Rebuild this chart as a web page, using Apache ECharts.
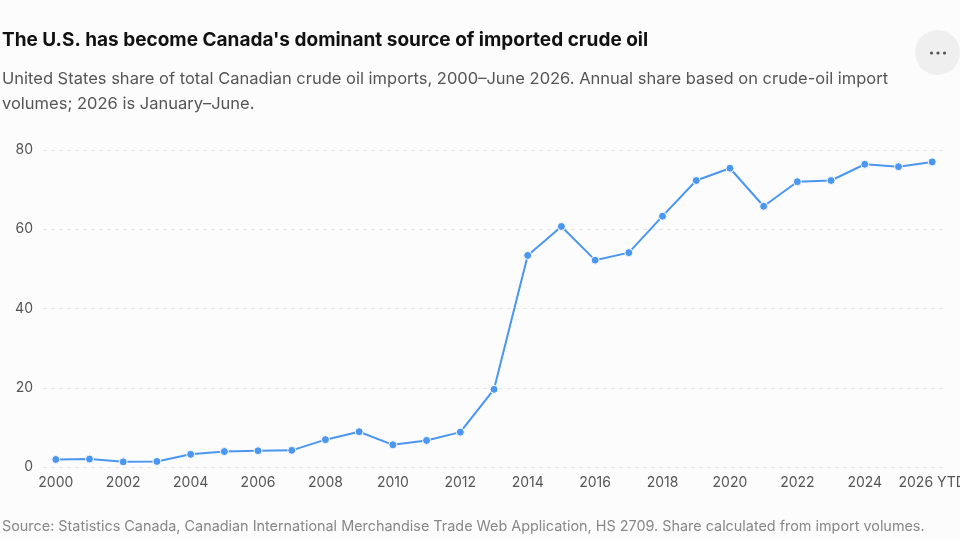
<!DOCTYPE html>
<html>
<head>
<meta charset="utf-8">
<script src="https://cdn.jsdelivr.net/npm/echarts@6/dist/echarts.min.js"></script>
<style>
  html, body { margin: 0; padding: 0; background: #fcfcfc; }
  #chart { width: 960px; height: 540px; }
</style>
</head>
<body>
<div id="chart"></div>
<script>
// annual US share of Canadian crude imports (%), 2026 = Jan-Jun
const years = [2000, 2001, 2002, 2003, 2004, 2005, 2006, 2007, 2008, 2009,
  2010, 2011, 2012, 2013, 2014, 2015, 2016, 2017, 2018, 2019,
  2020, 2021, 2022, 2023, 2024, 2025, 2026];
const usShare = [1.9, 2.0, 1.3, 1.4, 3.2, 3.9, 4.1, 4.2, 6.9, 8.9,
  5.6, 6.7, 8.8, 19.6, 53.4, 60.7, 52.2, 54.1, 63.3, 72.3,
  75.4, 65.8, 72.0, 72.3, 76.4, 75.8, 77.0];
const xTicks = [2000, 2002, 2004, 2006, 2008, 2010, 2012, 2014, 2016, 2018,
  2020, 2022, 2024, 2026];
const yTicks = [0, 20, 40, 60, 80];

const font = 'Inter, "Noto Sans", sans-serif';
const chart = echarts.init(document.getElementById('chart'));

const option = {
  backgroundColor: '#fcfcfc',
  animation: false,
  textStyle: { fontFamily: font },
  title: [
    {
      text: "The U.S. has become Canada's dominant source of imported crude oil",
      left: 2,
      top: 31,
      padding: 0,
      textStyle: { fontSize: 19, fontWeight: 'bold', color: '#111', fontFamily: font }
    },
    {
      text: 'United States share of total Canadian crude oil imports, 2000–June 2026. Annual share based on crude-oil import\nvolumes; 2026 is January–June.',
      left: 2,
      top: 67,
      padding: 0,
      textStyle: { fontSize: 16.5, fontWeight: 'normal', color: '#555', lineHeight: 25, fontFamily: font }
    },
    {
      text: 'Source: Statistics Canada, Canadian International Merchandise Trade Web Application, HS 2709. Share calculated from import volumes.',
      left: 2,
      top: 520,
      padding: 0,
      textStyle: { fontSize: 14.4, fontWeight: 'normal', color: '#888', fontFamily: font }
    }
  ],
  graphic: [
    { type: 'circle', shape: { cx: 937.5, cy: 52.5, r: 22.5 }, style: { fill: '#efefef' } },
    { type: 'circle', shape: { cx: 931.5, cy: 53, r: 1.6 }, style: { fill: '#555' } },
    { type: 'circle', shape: { cx: 938, cy: 53, r: 1.6 }, style: { fill: '#555' } },
    { type: 'circle', shape: { cx: 944.5, cy: 53, r: 1.6 }, style: { fill: '#555' } }
  ],
  grid: { left: 43, right: 15, top: 150, bottom: 73, containLabel: false, outerBoundsMode: 'none' },
  xAxis: {
    type: 'value',
    min: 1999.62,
    max: 2026.38,
    axisLine: { show: false },
    axisTick: { show: false },
    splitLine: { show: false },
    axisLabel: {
      customValues: xTicks,
      color: '#555',
      fontSize: 14,
      margin: 9,
      formatter: v => (v === 2026 ? '2026 YTD' : String(v))
    }
  },
  yAxis: {
    type: 'value',
    min: 0,
    max: 80,
    interval: 20,
    axisLine: { show: false },
    axisTick: { show: false },
    axisLabel: { color: '#555', fontSize: 14, margin: 10, customValues: yTicks },
    splitLine: { lineStyle: { color: '#e6e6e6', type: [4, 4], width: 1 } }
  },
  series: [
    {
      type: 'line',
      data: years.map((y, i) => [y, usShare[i]]),
      symbol: 'circle',
      symbolSize: 8,
      showSymbol: true,
      lineStyle: { color: '#4a96f0', width: 2 },
      itemStyle: { color: '#4a96f0', borderColor: '#fcfcfc', borderWidth: 1 }
    }
  ]
};

chart.setOption(option);
</script>
</body>
</html>
